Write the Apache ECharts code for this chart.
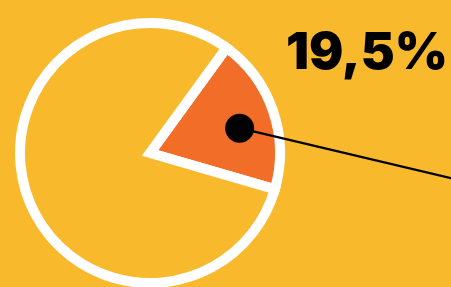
<!DOCTYPE html>
<html>
<head>
<meta charset="utf-8">
<script src="https://cdn.jsdelivr.net/npm/echarts@6/dist/echarts.min.js"></script>
<style>
  html, body { margin: 0; padding: 0; background: #F9B92D; }
  #chart { width: 451px; height: 287px; }
</style>
</head>
<body>
<div id="chart"></div>
<script>
const names = ['Anteil', 'Rest']
const values = [19.5, 80.5]
const colors = ['#F26D28', '#F9B92D']

const chart = echarts.init(document.getElementById('chart'))

const center = [150, 153]
const radius = 130
const startAngle = 54 // ccw from 3 o'clock, i.e. 36deg clockwise from 12

// marker dot sits inside the orange slice, a bit below its bisector
const total = values.reduce((a, b) => a + b, 0)
const span = values[0] / total * 360
const dotAngle = (startAngle - span / 2 - 3.4) * Math.PI / 180
const dotX = center[0] + 93 * Math.cos(dotAngle)
const dotY = center[1] - 93 * Math.sin(dotAngle)
const lineEndX = 451
const lineEndY = dotY + (lineEndX - dotX) * 0.237

chart.setOption({
  backgroundColor: '#F9B92D',
  animation: false,
  title: {
    text: values[0].toString().replace('.', ',') + '%',
    left: 286,
    top: 28,
    padding: 0,
    textStyle: {
      color: '#000',
      fontFamily: 'Inter',
      fontWeight: 900,
      fontSize: 51
    }
  },
  series: [
    {
      type: 'pie',
      center: center,
      radius: radius,
      startAngle: startAngle,
      clockwise: true,
      silent: true,
      label: { show: false },
      labelLine: { show: false },
      itemStyle: {
        borderColor: '#fff',
        borderWidth: 10,
        borderJoin: 'miter'
      },
      data: names.map((n, i) => ({
        name: n,
        value: values[i],
        itemStyle: { color: colors[i] }
      }))
    }
  ],
  graphic: [
    {
      type: 'line',
      shape: { x1: dotX, y1: dotY, x2: lineEndX, y2: lineEndY },
      style: { stroke: '#000', lineWidth: 2.2 },
      z: 100
    },
    {
      type: 'circle',
      shape: { cx: dotX, cy: dotY, r: 14.5 },
      style: { fill: '#000' },
      z: 101
    }
  ]
})
</script>
</body>
</html>
